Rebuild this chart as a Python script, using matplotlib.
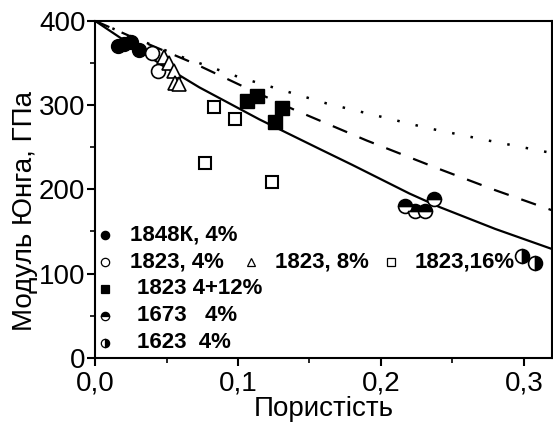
import matplotlib
matplotlib.use('Agg')
import matplotlib.pyplot as plt
from matplotlib.ticker import MultipleLocator, FuncFormatter

plt.rcParams['font.family'] = ['Liberation Sans', 'DejaVu Sans']

# measured points (porosity, Young's modulus GPa)
p_1848k = [0.016, 0.020, 0.025, 0.031]
e_1848k = [370, 373, 375, 366]
p_1823_4 = [0.040, 0.044]
e_1823_4 = [362, 340]
p_1823_8 = [0.048, 0.052, 0.055, 0.056, 0.059]
e_1823_8 = [357, 350, 340, 326, 325]
p_1823_16 = [0.083, 0.098, 0.077, 0.124]
e_1823_16 = [298, 283, 231, 209]
p_1823_412 = [0.106, 0.113, 0.131, 0.126]
e_1823_412 = [305, 311, 296, 280]
p_1673 = [0.217, 0.224, 0.231, 0.237]
e_1673 = [180, 174, 174, 188]
p_1623 = [0.299, 0.308]
e_1623 = [121, 113]

# model curves
solid_p = [0.0, 0.036, 0.073, 0.115, 0.157, 0.180, 0.200, 0.220, 0.241, 0.280, 0.32]
solid_e = [400, 359, 321, 283, 248, 229, 212, 195, 179, 153, 129]
dash_p = [0.0, 0.035, 0.070, 0.105, 0.140, 0.190, 0.241, 0.280, 0.32]
dash_e = [400, 374, 349, 321, 294, 258, 224, 199, 175]
dot_p = [0.0, 0.030, 0.061, 0.101, 0.162, 0.232, 0.275, 0.32]
dot_e = [400, 378, 357, 333, 302, 273, 258, 243]

fig = plt.figure(figsize=(5.53, 4.26), dpi=100)
ax = fig.add_axes([0.172, 0.160, 0.827, 0.791])

ax.plot(solid_p, solid_e, '-', color='black', lw=1.6)
ax.plot(dash_p, dash_e, color='black', lw=1.6, dashes=(7, 6))
ax.plot(dot_p, dot_e, color='black', lw=1.8, dashes=(1, 6.5))

ms = 10
ax.plot(p_1848k, e_1848k, 'o', ms=ms, color='black', mec='black', ls='none')
ax.plot(p_1823_4, e_1823_4, 'o', ms=ms, mfc='white', mec='black', mew=1.2, ls='none')
ax.plot(p_1823_8, e_1823_8, '^', ms=ms, mfc='white', mec='black', mew=1.2, ls='none')
ax.plot(p_1823_16, e_1823_16, 's', ms=8.5, mfc='white', mec='black', mew=1.5, ls='none')
ax.plot(p_1823_412, e_1823_412, 's', ms=9.5, color='black', ls='none')
ax.plot(p_1673, e_1673, 'o', ms=ms, fillstyle='top', color='black',
        mfc='black', mfcalt='white', mec='black', mew=1.2, ls='none')
ax.plot(p_1623, e_1623, 'o', ms=ms, fillstyle='right', color='black',
        mfc='black', mfcalt='white', mec='black', mew=1.2, ls='none')

# hand made legend
leg_marks = [
    ('o', 'black', 'full', 0.022, 0.365, '1848К, 4%', 0.076),
    ('o', 'white', 'full', 0.022, 0.285, '1823, 4%', 0.076),
    ('^', 'white', 'full', 0.341, 0.285, '1823, 8%', 0.393),
    ('s', 'white', 'full', 0.646, 0.285, '1823,16%', 0.699),
    ('s', 'black', 'full', 0.022, 0.205, '1823 4+12%', 0.092),
    ('o', 'black', 'top', 0.022, 0.125, '1673   4%', 0.092),
    ('o', 'black', 'right', 0.022, 0.045, '1623  4%', 0.092),
]
for m, fc, fs, mx, my, txt, tx in leg_marks:
    ax.plot([mx], [my], m, ms=6, mfc=fc, mec='black', mew=0.9,
            fillstyle=fs, mfcalt='white', transform=ax.transAxes, clip_on=False)
    ax.text(tx, my, txt, transform=ax.transAxes, fontsize=16, fontweight='bold',
            va='center', ha='left')

ax.set_xlim(0, 0.32)
ax.set_ylim(0, 400)
ax.xaxis.set_major_locator(MultipleLocator(0.1))
ax.xaxis.set_minor_locator(MultipleLocator(0.05))
ax.yaxis.set_major_locator(MultipleLocator(100))
ax.yaxis.set_minor_locator(MultipleLocator(50))
ax.xaxis.set_major_formatter(FuncFormatter(lambda v, pos: ('%.1f' % v).replace('.', ',')))

for s in ax.spines.values():
    s.set_linewidth(1.5)
ax.tick_params(which='major', direction='out', length=6, width=1.5, labelsize=20)
ax.tick_params(which='minor', direction='out', length=3.5, width=1.2)
ax.tick_params(axis='x', pad=3)
ax.tick_params(axis='y', pad=1)

ax.set_xlabel('Пористість', fontsize=20, labelpad=0)
ax.set_ylabel('Модуль Юнга, ГПа', fontsize=20)
ax.yaxis.set_label_coords(-0.125, 0.436)

fig.savefig('out.png', dpi=100)
